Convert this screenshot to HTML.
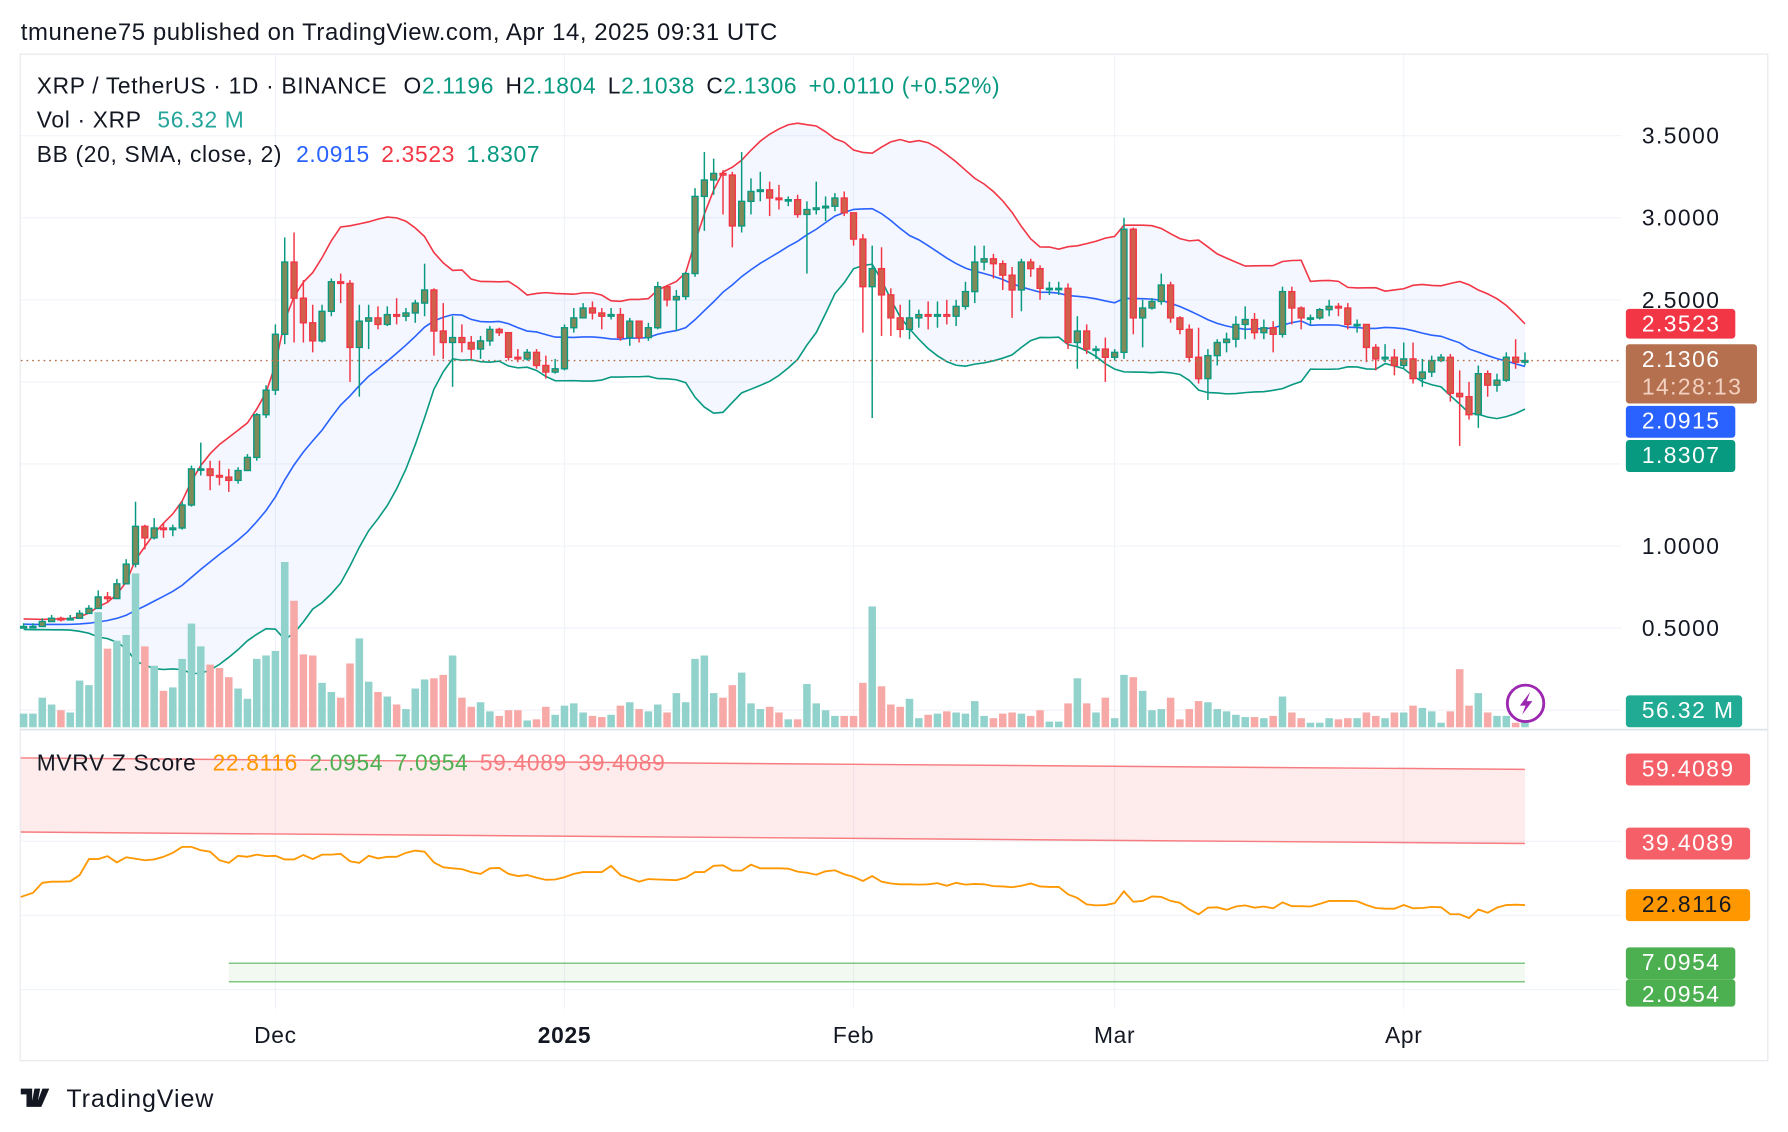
<!DOCTYPE html>
<html><head><meta charset="utf-8"><style>
html,body{margin:0;padding:0;background:#fff;}
svg{display:block;font-family:"Liberation Sans",Arial,sans-serif;}
</style></head><body>
<svg id="chart" width="1788" height="1132" viewBox="0 0 1568 993" xmlns="http://www.w3.org/2000/svg">
<rect x="0" y="0" width="1568" height="993" fill="#fff"/>
<text x="18" y="35" font-size="21" letter-spacing="0.5" fill="#131722">tmunene75 published on TradingView.com, Apr 14, 2025 09:31 UTC</text>
<rect x="17.5" y="47.5" width="1533" height="883" fill="none" stroke="#e6e8ec" stroke-width="1"/>
<g id="grid"></g>
<g id="bb"></g>
<g id="vol"></g>
<g id="candles"></g>
<g id="mvrv"></g>
<g id="axes"></g>
<g font-size="20" letter-spacing="0.6">
<text x="32" y="82" fill="#131722">XRP / TetherUS · 1D · BINANCE <tspan dx="8">O</tspan><tspan fill="#089981">2.1196</tspan><tspan dx="10">H</tspan><tspan fill="#089981">2.1804</tspan><tspan dx="10">L</tspan><tspan fill="#089981">2.1038</tspan><tspan dx="10">C</tspan><tspan fill="#089981">2.1306</tspan><tspan dx="10" fill="#089981">+0.0110 (+0.52%)</tspan></text>
<text x="32" y="112" fill="#131722">Vol · XRP <tspan dx="8" fill="#26a69a">56.32 M</tspan></text>
<text x="32" y="142" fill="#131722">BB (20, SMA, close, 2) <tspan dx="6" fill="#2962ff">2.0915</tspan><tspan dx="10" fill="#f23645">2.3523</tspan><tspan dx="10" fill="#089981">1.8307</tspan></text>
<text x="32" y="676" fill="#131722">MVRV Z Score <tspan dx="8" fill="#ff9800">22.8116</tspan><tspan dx="10" fill="#4caf50">2.0954</tspan><tspan dx="10" fill="#4caf50">7.0954</tspan><tspan dx="10" fill="#f77c80">59.4089</tspan><tspan dx="10" fill="#f77c80">39.4089</tspan></text>
</g>
<g>
<path d="M18 955h10v16h-5v-11h-5z M30 955h5l-3 16h-5z M37 955h6l-7 16h-5z" fill="#131722"/>
<text x="58" y="971" font-size="22" letter-spacing="0.8" fill="#131722">TradingView</text>
</g>
<g>
<circle cx="1338" cy="617" r="16" fill="#fff" stroke="#9c27b0" stroke-width="2.5"/>
<path d="M1342 607l-9 12h5l-3 8 9-12h-5z" fill="#9c27b0"/>
</g>
</svg>
<script>
const priorCloses=[0.54,0.55,0.55,0.55,0.55,0.54,0.53,0.52,0.52,0.51,0.51,0.52,0.52,0.52,0.51,0.51,0.51,0.51,0.50];
const closes=[0.51,0.51,0.54,0.56,0.55,0.56,0.59,0.62,0.69,0.68,0.77,0.89,1.12,1.05,1.11,1.10,1.11,1.25,1.47,1.47,1.43,1.42,1.40,1.46,1.54,1.80,1.95,2.29,2.73,2.51,2.36,2.25,2.43,2.61,2.60,2.21,2.37,2.39,2.35,2.41,2.40,2.42,
2.48,2.56,2.31,2.24,2.27,2.24,2.20,2.25,2.32,2.30,2.15,2.14,2.18,2.10,2.06,2.08,2.33,2.39,2.45,2.42,2.40,2.41,2.27,2.37,2.27,2.33,2.58,2.50,2.52,2.66,3.13,3.23,3.27,3.26,2.95,3.10,3.16,3.17,3.12,3.11,3.11,3.02,
3.05,3.06,3.07,3.12,3.03,2.87,2.58,2.69,2.53,2.39,2.32,2.39,2.41,2.40,2.41,2.40,2.46,2.55,2.73,2.75,2.72,2.65,2.56,2.73,2.69,2.57,2.57,2.57,2.24,2.31,2.20,2.20,2.15,2.18,2.93,2.39,2.45,2.49,2.59,2.39,2.32,
2.15,2.02,2.16,2.24,2.26,2.35,2.38,2.30,2.33,2.29,2.55,2.45,2.39,2.39,2.44,2.46,2.45,2.35,2.35,2.21,2.14,2.15,2.10,2.14,2.02,2.06,2.13,2.15,1.93,1.91,1.80,2.05,1.98,2.01,2.15,2.12,2.13];
const highs=[.53,.53,.56,.58,.57,.58,.61,.64,.73,.72,.80,.92,1.27,1.13,1.17,1.14,1.13,1.27,1.49,1.63,1.52,1.52,1.47,1.48,1.56,1.81,1.98,2.35,2.88,2.91,2.62,2.47,2.47,2.63,2.66,2.62,2.47,2.47,2.46,2.46,2.51,2.45,
2.50,2.72,2.57,2.48,2.40,2.35,2.28,2.28,2.34,2.33,2.30,2.20,2.20,2.20,2.16,2.14,2.35,2.45,2.48,2.49,2.45,2.45,2.45,2.39,2.37,2.36,2.61,2.59,2.56,2.67,3.18,3.40,3.36,3.29,3.28,3.40,3.24,3.28,3.22,3.20,3.13,3.14,
3.10,3.22,3.13,3.15,3.16,3.00,2.90,2.83,2.82,2.57,2.47,2.50,2.44,2.49,2.49,2.50,2.50,2.61,2.83,2.83,2.78,2.74,2.70,2.75,2.75,2.71,2.61,2.61,2.60,2.40,2.35,2.22,2.27,2.20,3.00,2.94,2.50,2.51,2.66,2.61,2.40,
2.35,2.33,2.20,2.26,2.30,2.40,2.46,2.42,2.38,2.37,2.58,2.58,2.46,2.41,2.45,2.50,2.48,2.48,2.38,2.35,2.23,2.23,2.20,2.24,2.24,2.14,2.16,2.17,2.17,2.07,2.00,2.10,2.07,2.05,2.18,2.26,2.18];
const lows=[.50,.50,.52,.54,.54,.55,.57,.60,.66,.66,.74,.86,.87,.98,1.04,1.05,1.06,1.10,1.24,1.43,1.34,1.37,1.33,1.38,1.46,1.52,1.78,1.92,2.23,2.24,2.24,2.18,2.24,2.40,2.48,2.00,1.91,2.20,2.32,2.34,2.35,2.37,
2.36,2.40,2.16,2.14,1.97,2.18,2.14,2.14,2.22,2.28,2.13,2.12,2.13,2.08,2.02,2.05,2.07,2.30,2.40,2.38,2.32,2.38,2.25,2.22,2.24,2.25,2.32,2.46,2.31,2.50,2.64,2.92,3.14,3.02,2.82,2.91,3.02,3.10,3.01,3.05,3.07,3.00,
2.66,3.02,2.98,3.04,3.01,2.83,2.30,1.78,2.28,2.28,2.27,2.26,2.33,2.32,2.33,2.35,2.34,2.44,2.48,2.68,2.63,2.56,2.39,2.43,2.64,2.50,2.53,2.53,2.20,2.08,2.17,2.14,2.00,2.13,2.14,2.29,2.21,2.44,2.47,2.36,2.29,
2.12,1.99,1.89,2.10,2.18,2.21,2.26,2.26,2.26,2.18,2.27,2.35,2.32,2.35,2.38,2.40,2.40,2.32,2.30,2.12,2.07,2.12,2.04,2.08,1.99,1.97,2.03,2.12,1.88,1.61,1.77,1.72,1.91,1.94,2.00,2.08,2.10];
const volumes=[120,120,260,200,150,130,410,370,1010,690,760,810,1350,710,540,320,350,600,910,710,550,520,440,340,250,600,630,670,1450,1110,640,630,390,310,260,560,780,400,310,270,200,160,
340,420,430,460,630,260,180,220,140,100,150,150,60,70,180,110,190,210,130,100,90,110,190,220,160,140,200,130,300,220,600,630,300,260,370,480,210,160,180,130,70,70,
380,210,150,100,100,100,390,1060,360,200,180,250,80,110,120,140,130,120,230,100,80,120,130,120,100,150,50,50,210,430,210,130,260,80,460,440,320,150,160,260,70,
160,230,220,160,140,110,90,90,80,100,270,130,80,40,40,80,70,80,80,130,100,80,130,130,190,170,140,40,140,510,190,300,130,100,100,40,56.32];
const mvrv=[25.0,26.1,28.8,29.1,29.1,29.2,30.9,35.2,35.2,36.0,34.3,35.7,35.3,34.9,35.1,35.8,36.9,38.5,38.5,37.6,37.2,34.9,34.2,36.1,35.8,36.4,36.0,36.1,35.1,35.1,36.3,35.2,36.4,36.4,36.6,34.6,34.2,36.1,35.4,35.8,35.8,36.9,
37.5,37.2,34.3,33.0,32.7,32.5,31.7,31.2,32.7,32.8,31.2,30.6,30.9,30.2,29.6,29.7,30.3,31.2,31.7,31.7,31.7,33.4,30.9,30.0,29.1,29.8,29.7,29.6,29.5,30.2,31.7,31.7,33.4,33.5,32.1,32.1,33.7,32.7,32.7,32.7,32.6,31.8,
31.5,31.0,31.9,32.2,31.1,30.4,29.3,30.6,29.1,28.6,28.4,28.4,28.3,28.4,28.7,28.0,28.8,28.3,28.5,28.4,27.9,27.8,27.6,28.0,28.6,27.8,27.7,27.7,25.7,24.7,23.0,22.7,22.8,23.3,26.5,23.7,23.9,25.1,25.0,23.9,23.4,
21.6,20.3,22.1,22.2,21.5,22.4,22.7,22.1,22.4,21.9,23.5,22.5,22.5,22.4,23.1,23.9,23.9,23.9,23.8,22.8,22.0,21.8,21.8,22.8,21.9,22.0,22.3,22.2,20.3,20.3,19.3,21.6,20.7,22.1,22.8,22.9,22.8116];
const priceTicks=[3.5,3.0,2.5,1.0,0.5];
const priceGrid=[3.5,3.0,2.5,2.0,1.5,1.0,0.5,0.0];
const mvrvGrid=[40,20,0];
const monthLabels=["Dec","2025","Feb","Mar","Apr"];
const monthIdx=[27,58,89,117,148];
const bandTop=[62.5,59.4089];
const bandBottom=[42.5,39.4089];
const greenBand=[7.0954,2.0954];
const greenStart=22;

const NS="http://www.w3.org/2000/svg";
const N=closes.length;
const xOf=i=>20.5+i*8.18;
const yP=p=>551-(p-0.5)*144;
const yV=v=>638-v/10;
const yM=v=>803-(v-20)*3.25;
function mk(tag,attrs,parent){const e=document.createElementNS(NS,tag);for(const k in attrs)e.setAttribute(k,attrs[k]);parent.appendChild(e);return e;}

const grid=document.getElementById('grid');
priceGrid.forEach(p=>{const l=mk('line',{x1:18,x2:1422,y1:yP(p),y2:yP(p),stroke:'#f0f3fa','stroke-width':1},grid);

});
mvrvGrid.forEach(v=>{const l=mk('line',{x1:18,x2:1422,y1:yM(v),y2:yM(v),stroke:'#f0f3fa','stroke-width':1},grid);

});
monthIdx.forEach(i=>{const l=mk('line',{x1:xOf(i),x2:xOf(i),y1:48,y2:885,stroke:'#f0f3fa','stroke-width':1},grid);

});
const sep=mk('line',{x1:18,x2:1550,y1:640,y2:640,stroke:'#e0e3eb','stroke-width':1.5},grid);



const all=priorCloses.concat(closes);const P=priorCloses.length;
const mid=[],up=[],lo=[];
for(let i=0;i<N;i++){const w=all.slice(i+P-19,i+P+1);const m=w.reduce((a,b)=>a+b,0)/w.length;const sd=Math.sqrt(w.reduce((a,b)=>a+(b-m)*(b-m),0)/w.length);mid.push(m);up.push(m+2*sd);lo.push(m-2*sd);}
const bb=document.getElementById('bb');
const pts=a=>a.map((v,i)=>xOf(i).toFixed(1)+','+yP(v).toFixed(1));
const fillPts=pts(up).concat(pts(lo).reverse()).join(' ');
const bf=mk('polygon',{points:fillPts,fill:'#2962ff','fill-opacity':0.05},bb);


[[up,'#f23645','bb-upper'],[mid,'#2962ff','bb-basis'],[lo,'#089981','bb-lower']].forEach(([a,c,n])=>{const l=mk('polyline',{points:pts(a).join(' '),fill:'none',stroke:c,'stroke-width':1.4},bb);

});

const vg=document.getElementById('vol'),cg=document.getElementById('candles');
for(let i=0;i<N;i++){
 const o=i===0?0.50:closes[i-1],c=closes[i];const upc=c>=o;const x=xOf(i);
 const vb=mk('rect',{x:x-3.3,y:yV(volumes[i]),width:6.6,height:638-yV(volumes[i]),fill:upc?'#92d2cc':'#f7a9a7'},vg);
 
 
 const col=upc?'#089981':'#f23645';
 const g=mk('g',{},cg);
 
 
 mk('line',{x1:x,x2:x,y1:yP(highs[i]),y2:yP(lows[i]),stroke:col,'stroke-width':1.3},g);
 const t=yP(Math.max(o,c)),b=yP(Math.min(o,c));
 mk('rect',{x:x-2.6,y:t,width:5.2,height:Math.max(1.2,b-t),fill:upc?'#7f8a5a':'#d0604b',stroke:col,'stroke-width':1.2},g);
}
const pl=mk('line',{x1:18,x2:1422,y1:yP(closes[N-1]),y2:yP(closes[N-1]),stroke:'#b5704f','stroke-width':1.2,'stroke-dasharray':'1.5 3.5'},cg);



const mg=document.getElementById('mvrv');
const x0=18,x1=xOf(N-1);
const pb=mk('polygon',{points:`${x0},${yM(bandTop[0])} ${x1},${yM(bandTop[1])} ${x1},${yM(bandBottom[1])} ${x0},${yM(bandBottom[0])}`,fill:'#f23645','fill-opacity':0.1},mg);


[[bandTop,'upper'],[bandBottom,'lower']].forEach(([b,n])=>{const l=mk('line',{x1:x0,y1:yM(b[0]),x2:x1,y2:yM(b[1]),stroke:'#f77c80','stroke-width':1.3},mg);

});
const gx=xOf(greenStart);
const gb=mk('rect',{x:gx,y:yM(greenBand[0]),width:x1-gx,height:yM(greenBand[1])-yM(greenBand[0]),fill:'#4caf50','fill-opacity':0.08},mg);


greenBand.forEach(v=>{const l=mk('line',{x1:gx,x2:x1,y1:yM(v),y2:yM(v),stroke:'#81c784','stroke-width':1.3},mg);

});
const ml=mk('polyline',{points:mvrv.map((v,i)=>(i===0?18:xOf(i)).toFixed(1)+','+yM(v).toFixed(1)).join(' '),fill:'none',stroke:'#ff9800','stroke-width':1.6},mg);



const ax=document.getElementById('axes');
priceTicks.forEach(p=>{const t=mk('text',{x:1440,y:yP(p)+7,'font-size':20,'letter-spacing':1.3,fill:'#131722'},ax);t.textContent=p.toFixed(4);

});
monthLabels.forEach((m,k)=>{const t=mk('text',{x:xOf(monthIdx[k]),y:915,'font-size':20,'letter-spacing':0.6,fill:'#131722','text-anchor':'middle','font-weight':m==='2025'?'bold':'normal'},ax);t.textContent=m;

});
function tag(y,h,w,fill,lines,tc,name){const g=mk('g',{},ax);


mk('rect',{x:1426,y:y-h/2,width:w,height:h,rx:3,fill:fill},g);
lines.forEach((s,k)=>{const t=mk('text',{x:1440,y:y-h/2+20+k*24,'font-size':20,'letter-spacing':1.3,fill:k?'#f3d1c0':tc},g);t.textContent=s;});}
tag(284,26,96,'#f23645',['2.3523'],'#fff','bb-upper-label');
tag(328,52,115,'#b5704f',['2.1306','14:28:13'],'#fff','last-price-label');
tag(370,28,96,'#2962ff',['2.0915'],'#fff','bb-basis-label');
tag(400,28,96,'#089981',['1.8307'],'#fff','bb-lower-label');
tag(624,28,102,'#22ab94',['56.32 M'],'#fff','volume-label');
tag(675,28,109,'#f55f67',['59.4089'],'#fff','mvrv-upper-label');
tag(740,28,109,'#f55f67',['39.4089'],'#fff','mvrv-lower-label');
tag(794,28,109,'#ff9800',['22.8116'],'#131722','mvrv-value-label');
tag(845,28,96,'#4caf50',['7.0954'],'#fff','mvrv-green-upper-label');
tag(871,24,96,'#4caf50',['2.0954'],'#fff','mvrv-green-lower-label');
</script>
</body></html>
